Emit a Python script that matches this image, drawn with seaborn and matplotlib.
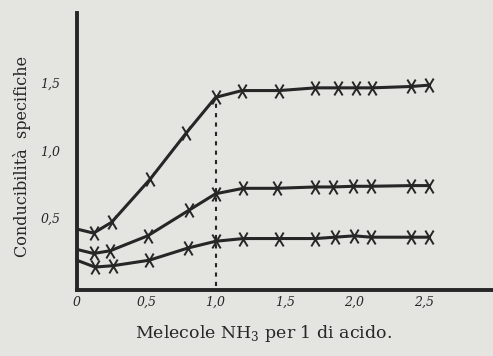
import numpy as np
import pandas as pd
import matplotlib
matplotlib.use("Agg")
import matplotlib.pyplot as plt
import seaborn as sns

# NH3 molecules per acid molecule (x) and specific conductivity (y)
x_top = [0.0, 0.12, 0.25, 0.53, 0.79, 1.0, 1.19, 1.46, 1.72, 1.88, 2.01, 2.13, 2.41, 2.54]
y_top = [0.42, 0.39, 0.47, 0.79, 1.13, 1.39, 1.44, 1.44, 1.46, 1.46, 1.46, 1.46, 1.47, 1.48]

x_mid = [0.0, 0.12, 0.24, 0.51, 0.81, 1.0, 1.20, 1.44, 1.72, 1.85, 1.99, 2.12, 2.41, 2.54]
y_mid = [0.27, 0.24, 0.26, 0.37, 0.56, 0.68, 0.72, 0.72, 0.73, 0.73, 0.735, 0.735, 0.74, 0.74]

x_low = [0.0, 0.13, 0.26, 0.52, 0.80, 1.0, 1.20, 1.46, 1.72, 1.86, 2.0, 2.12, 2.41, 2.54]
y_low = [0.19, 0.14, 0.15, 0.19, 0.28, 0.33, 0.35, 0.35, 0.35, 0.36, 0.37, 0.36, 0.36, 0.36]

x_ticks = [0, 0.5, 1.0, 1.5, 2.0, 2.5]
x_ticklabels = ["0", "0,5", "1,0", "1,5", "2,0", "2,5"]
y_ticks = [0.5, 1.0, 1.5]
y_ticklabels = ["0,5", "1,0", "1,5"]

paper = "#e4e4e1"
ink = "#262626"

sns.set_style("white")
plt.rcParams["font.family"] = ["DejaVu Serif"]

fig = plt.figure(figsize=(4.93, 3.56), dpi=100, facecolor=paper)
ax = fig.add_axes([0.156, 0.185, 0.844, 0.778], facecolor=paper)

# x marks drawn a bit taller than wide, like the hand-drawn crosses
cross = [(-0.6, -1), (0.6, 1), (0, 0), (-0.6, 1), (0.6, -1), (0, 0)]
cross_codes = [1, 2, 1, 1, 2, 1]
from matplotlib.path import Path
cross_marker = Path(cross, cross_codes)

for xs, ys in [(x_top, y_top), (x_mid, y_mid), (x_low, y_low)]:
    df = pd.DataFrame({"x": xs, "y": ys})
    sns.lineplot(data=df, x="x", y="y", ax=ax, color=ink, lw=2.2,
                 marker=cross_marker, markersize=10, markeredgewidth=1.4,
                 markeredgecolor=ink, markerfacecolor="none",
                 markevery=list(range(1, len(xs))), sort=False)

# dotted guide at 1 molecule NH3
ax.plot([1.0, 1.0], [0, y_top[5]], color=ink, lw=1.5, ls=(0, (2, 2.5)))

ax.set_xlim(0, 3.0)
ax.set_ylim(-0.03, 2.01)

for side in ["top", "right"]:
    ax.spines[side].set_visible(False)
for side in ["left", "bottom"]:
    ax.spines[side].set_color(ink)
    ax.spines[side].set_linewidth(2.8)

ax.set_xticks(x_ticks)
ax.set_xticklabels(x_ticklabels, style="italic", fontsize=9, color=ink)
ax.set_yticks(y_ticks)
ax.set_yticklabels(y_ticklabels, style="italic", fontsize=9, color=ink)
ax.tick_params(axis="both", direction="in", length=5, width=1.3, color=ink)
ax.tick_params(axis="y", pad=12)
ax.tick_params(axis="x", pad=4)

ax.set_xlabel("")
ax.set_ylabel("")
fig.text(0.534, 0.063, "Melecole NH$_{\\mathregular{3}}$ per 1 di acido.",
         ha="center", va="center", fontsize=12.5, color=ink)
fig.text(0.045, 0.56, "Conducibilità  specifiche", rotation=90,
         ha="center", va="center", fontsize=11.5, color=ink)

fig.savefig("out.png", dpi=100, facecolor=paper)
